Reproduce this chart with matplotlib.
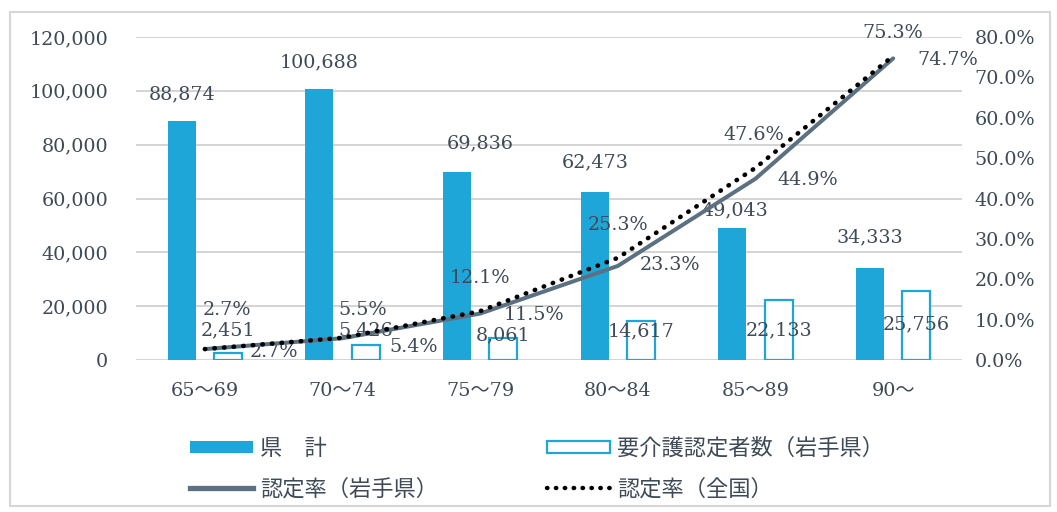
import matplotlib
matplotlib.use("Agg")
import matplotlib.pyplot as plt
from matplotlib.patches import Patch, Rectangle
from matplotlib.lines import Line2D
from matplotlib.ticker import FuncFormatter
import numpy as np

plt.rcParams['font.family'] = ['DejaVu Serif', 'Noto Sans CJK JP']

categories = ["65～69", "70～74", "75～79", "80～84", "85～89", "90～"]
pref_total = [88874, 100688, 69836, 62473, 49043, 34333]
certified = [2451, 5426, 8061, 14617, 22133, 25756]
rate_iwate = [2.7, 5.4, 11.5, 23.3, 44.9, 74.7]
rate_national = [2.7, 5.5, 12.1, 25.3, 47.6, 75.3]
left_ticks = [0, 20000, 40000, 60000, 80000, 100000, 120000]
right_ticks = [0, 10, 20, 30, 40, 50, 60, 70, 80]
legend_labels = ["県　計", "要介護認定者数（岩手県）", "認定率（岩手県）", "認定率（全国）"]

BLUE = "#1fa6d9"
LINE_GRAY = "#5b7182"
TEXT = "#3e4a57"
GRID = "#d4d4d4"

fig = plt.figure(figsize=(10.57, 5.12), dpi=100)
ax = fig.add_axes([136/1057, 1-360/512, 826/1057, 323/512])
ax2 = ax.twinx()

x = np.arange(len(categories))
w = 0.205
off = 0.168

ax.bar(x - off, pref_total, width=w, color=BLUE, zorder=2)
ax.bar(x + off, certified, width=w, facecolor="white", edgecolor=BLUE, linewidth=1.6, zorder=2)

TS = 13.8
ax.set_xlim(-0.5, len(categories) - 0.5)
ax.set_ylim(0, 120000)
ax.set_yticks(left_ticks)
ax.yaxis.set_major_formatter(FuncFormatter(lambda v, p: f"{int(v):,}"))
ax.grid(axis='y', color=GRID, linewidth=1.4, zorder=0)
ax.set_axisbelow(True)
for s in ax.spines.values():
    s.set_visible(False)
for s in ax2.spines.values():
    s.set_visible(False)
ax.tick_params(axis='y', length=0, pad=20, labelsize=TS, labelcolor=TEXT)
ax.tick_params(axis='x', length=0, pad=16, labelsize=TS, labelcolor=TEXT)
ax.set_xticks(x)
ax.set_xticklabels(categories)

ax2.set_ylim(0, 80)
ax2.set_yticks(right_ticks)
ax2.yaxis.set_major_formatter(FuncFormatter(lambda v, p: f"{v:.1f}%"))
ax2.tick_params(axis='y', length=0, pad=9, labelsize=TS, labelcolor=TEXT)

ax2.plot(x, rate_iwate, color=LINE_GRAY, linewidth=2.9, zorder=4, solid_capstyle='round')
ax2.plot(x, rate_national, color="black", linewidth=3.3, linestyle=(0, (0.1, 2.0)),
         dash_capstyle='round', zorder=5)

fs = TS
pt_off = [(0, 26), (0, 27), (23, 29), (0, 29), (2, 18), (0, 30)]
for i, v in enumerate(pref_total):
    ax.annotate(f"{v:,}", (x[i] - off, v), xytext=pt_off[i], textcoords='offset pixels',
                ha='center', va='center', fontsize=fs, color=TEXT, zorder=3)
cert_off = [(0, 23), (0, 15), (0, 3), (0, -11), (0, -30), (0, -34)]
for i, v in enumerate(certified):
    ax.annotate(f"{v:,}", (x[i] + off, v), xytext=cert_off[i], textcoords='offset pixels',
                ha='center', va='center', fontsize=fs, color=TEXT, zorder=3)
nat_off = [(22, 39), (20, 28), (0, 33), (0, 33), (-2, 33), (0, 23)]
for i, v in enumerate(rate_national):
    ax2.annotate(f"{v:.1f}%", (x[i], v), xytext=nat_off[i], textcoords='offset pixels',
                 ha='center', va='center', fontsize=fs, color=TEXT, zorder=3)
iw_off = [(45, -3), (47, -9), (24, -1), (22, 1), (22, -1), (24, -2)]
for i, v in enumerate(rate_iwate):
    ax2.annotate(f"{v:.1f}%", (x[i], v), xytext=iw_off[i], textcoords='offset pixels',
                 ha='left', va='center', fontsize=fs, color=TEXT, zorder=3)

handles = [
    Patch(facecolor=BLUE, edgecolor=BLUE, linewidth=0),
    Line2D([0], [0], color=LINE_GRAY, linewidth=3.8),
    Patch(facecolor="white", edgecolor=BLUE, linewidth=1.6),
    Line2D([0], [0], color="black", linewidth=3.2, linestyle=(0, (0.1, 1.9)), dash_capstyle='round'),
]
labels = [legend_labels[0], legend_labels[2], legend_labels[1], legend_labels[3]]
fig.legend(handles, labels, ncol=2, loc='upper left', bbox_to_anchor=(190/1057, 1-438/512),
           frameon=False, fontsize=16, handlelength=2.84, handleheight=0.5,
           handletextpad=0.32, columnspacing=4.9, labelspacing=0.82, borderpad=0,
           borderaxespad=0, labelcolor=TEXT)

fig.patches.append(Rectangle((10/1057, 1-506/512), 1040/1057, 494/512, transform=fig.transFigure,
                             fill=False, edgecolor="#d6d6d6", linewidth=1.5))

fig.savefig("out.png", dpi=100)
